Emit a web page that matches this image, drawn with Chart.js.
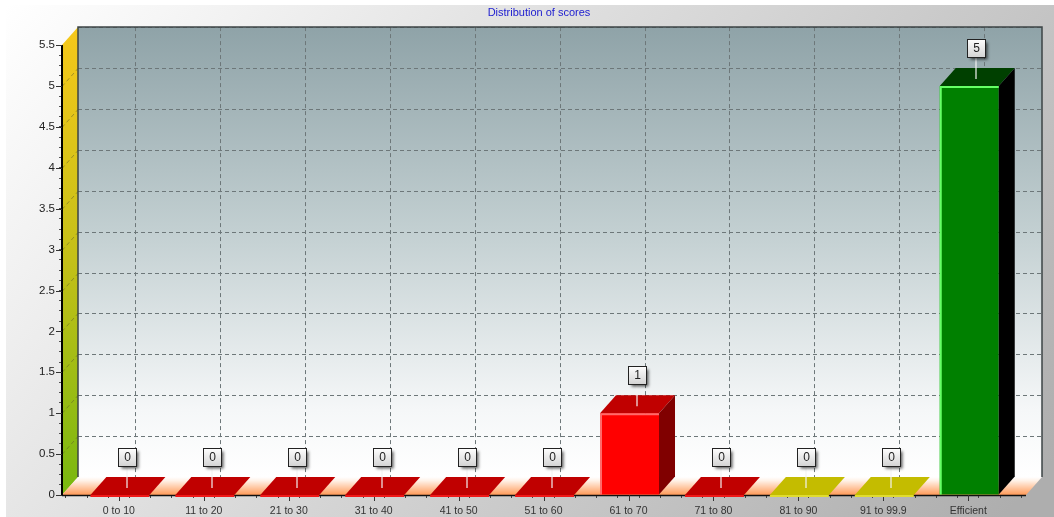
<!DOCTYPE html>
<html><head><meta charset="utf-8">
<style>html,body{margin:0;padding:0;background:#fff}canvas{display:block}</style>
<script src="https://cdn.jsdelivr.net/npm/chart.js@4"></script></head>
<body><canvas id="c" width="1054" height="517"></canvas>
<script>
const categories = ["0 to 10","11 to 20","21 to 30","31 to 40","41 to 50","51 to 60","61 to 70","71 to 80","81 to 90","91 to 99.9","Efficient"];
const scores = [0,0,0,0,0,0,1,0,0,0,5];
const frontColors = ["#ff0000","#ff0000","#ff0000","#ff0000","#ff0000","#ff0000","#ff0000","#ff0000","#d8d000","#d8d000","#008000"];
const topColors = ["#c00000","#c00000","#c00000","#c00000","#c00000","#c00000","#c00000","#c00000","#c4bc00","#c4bc00","#004000"];
const sideColors = ["#800000","#800000","#800000","#800000","#800000","#800000","#800000","#800000","#808000","#808000","#000000"];
const edgeColors = ["#f01818","#f01818","#f01818","#f01818","#f01818","#f01818","#ff6a6a","#f01818","#e0dc30","#e0dc30","#66ff66"];
const DX = 16, DY = 18;

const scene = {
  id:'scene',
  afterLayout(ch){ ch.titleBlock.left = 52; },
  beforeDraw(ch){
    const c = ch.ctx, a = ch.chartArea, X = ch.scales.x, Y = ch.scales.y;
    c.save();
    c.fillStyle = '#fff'; c.fillRect(0,0,ch.width,ch.height);
    const bg = c.createLinearGradient(6,5,ch.width*0.78,ch.height*1.4);
    bg.addColorStop(0,'#ffffff'); bg.addColorStop(1,'#aeaeae');
    c.fillStyle = bg; c.fillRect(6,5,ch.width-6,ch.height-5);
    const L=a.left, R=a.right, T=a.top, B=a.bottom;
    const wall = c.createLinearGradient(0,T-DY,0,B-DY);
    wall.addColorStop(0,'#8fa3a8'); wall.addColorStop(0.45,'#c2cfd1'); wall.addColorStop(0.85,'#f5f7f8'); wall.addColorStop(1,'#ffffff');
    c.fillStyle = wall; c.fillRect(L+DX,T-DY,R-L,B-T);
    const lw = c.createLinearGradient(0,T-DY,0,B);
    lw.addColorStop(0,'#f6c81a'); lw.addColorStop(0.5,'#c4c018'); lw.addColorStop(1,'#78b810');
    c.fillStyle = lw; c.beginPath(); c.moveTo(L,T); c.lineTo(L+DX,T-DY); c.lineTo(L+DX,B-DY); c.lineTo(L,B); c.closePath(); c.fill();
    const fl = c.createLinearGradient(0,B-DY,0,B);
    fl.addColorStop(0,'#ffffff'); fl.addColorStop(0.2,'#fff2e8'); fl.addColorStop(1,'#ff9a58');
    c.fillStyle = fl; c.beginPath(); c.moveTo(L,B); c.lineTo(L+DX,B-DY); c.lineTo(R+DX,B-DY); c.lineTo(R,B); c.closePath(); c.fill();
    c.setLineDash([4,3]); c.lineWidth = 1; c.strokeStyle = '#6d7779';
    Y.ticks.forEach(t=>{ if((t.value*2)%1) return;
      const y = Math.round(Y.getPixelForValue(t.value)-DY)+.5;
      if(t.value>0){c.beginPath(); c.moveTo(L+DX,y); c.lineTo(R+DX,y); c.stroke();}
      if(t.value>0&&t.value<5.5){c.save(); c.strokeStyle='rgba(90,90,40,.5)'; c.beginPath(); c.moveTo(L,y+DY); c.lineTo(L+DX,y); c.stroke(); c.restore();}
    });
    categories.forEach((n,i)=>{
      const x = Math.round(X.getPixelForValue(i)+DX)+.5;
      c.beginPath(); c.moveTo(x,T-DY); c.lineTo(x,B-DY); c.stroke();
    });
    c.setLineDash([]);
    c.strokeStyle='#3c4446'; c.lineWidth=1.5;
    c.beginPath(); c.moveTo(L+DX,B-DY); c.lineTo(L+DX,T-DY); c.lineTo(R+DX,T-DY); c.lineTo(R+DX,B-DY); c.stroke();
    c.restore();
  },
  afterDraw(ch){
    const c = ch.ctx, a = ch.chartArea, X = ch.scales.x, Y = ch.scales.y;
    c.save();
    c.strokeStyle='#000'; c.lineWidth=2;
    c.beginPath(); c.moveTo(a.left,a.top); c.lineTo(a.left,a.bottom); c.stroke();
    const meta = ch.getDatasetMeta(0);
    c.lineWidth=1.5; c.strokeStyle='#111';
    c.beginPath(); c.moveTo(a.left,a.bottom+.5); c.lineTo(a.right,a.bottom+.5); c.stroke();
    c.lineWidth=1; c.strokeStyle='#333';
    Y.ticks.forEach(t=>{ if((t.value*2)%1) return; const y=Math.round(Y.getPixelForValue(t.value))+.5;
      c.beginPath(); c.moveTo(a.left-6,y); c.lineTo(a.left,y); c.stroke(); });
    categories.forEach((n,i)=>{ const x=Math.round(X.getPixelForValue(i))+.5;
      c.beginPath(); c.moveTo(x,a.bottom); c.lineTo(x,a.bottom+6); c.stroke(); });
    meta.data.forEach((el,i)=>{
      const w = el.width, l = el.x-w/2+1, r = el.x+w/2+1, t = el.y, b = el.base;
      c.fillStyle = frontColors[i]; if(b-t>0) c.fillRect(l,t,w,b-t);
      c.fillStyle = topColors[i];
      c.beginPath(); c.moveTo(l,t); c.lineTo(l+DX,t-DY); c.lineTo(r+DX,t-DY); c.lineTo(r,t); c.closePath(); c.fill();
      if(b-t>0){
        c.fillStyle = sideColors[i];
        c.beginPath(); c.moveTo(r,t); c.lineTo(r+DX,t-DY); c.lineTo(r+DX,b-DY); c.lineTo(r,b); c.closePath(); c.fill();
      }
      c.strokeStyle = edgeColors[i]; c.lineWidth=2;
      c.beginPath(); c.moveTo(l+1,b); c.lineTo(l+1,t+1); c.lineTo(r,t+1); c.stroke();
      const cx = Math.round(el.x+8), by = Math.round(t-38);
      c.strokeStyle='#f4f4f4'; c.lineWidth=1.2;
      c.beginPath(); c.moveTo(cx,t-7); c.lineTo(cx,by+9); c.stroke();
      c.save();
      c.shadowColor='rgba(0,0,0,.65)'; c.shadowBlur=3; c.shadowOffsetX=2; c.shadowOffsetY=2;
      const g=c.createLinearGradient(0,by-9,0,by+9); g.addColorStop(0,'#ffffff'); g.addColorStop(1,'#d4d4d4');
      c.fillStyle=g; c.fillRect(cx-8.5,by-8.5,18,18);
      c.restore();
      c.strokeStyle='#222'; c.lineWidth=1; c.strokeRect(cx-8.5,by-8.5,18,18);
      c.fillStyle='#222'; c.font='12px "Liberation Sans"'; c.textAlign='center'; c.textBaseline='middle';
      c.fillText(String(scores[i]),cx+.5,by+1);
    });
    c.restore();
  }
};

new Chart(document.getElementById('c'),{
  type:'bar',
  data:{datasets:[{
    data:scores.map((v,i)=>({x:i,y:v})),
    backgroundColor:'rgba(0,0,0,0)',borderWidth:0,
    barThickness:59
  }]},
  plugins:[scene],
  options:{
    responsive:false,animation:false,devicePixelRatio:1,
    layout:{padding:{left:0,right:28,top:0,bottom:0}},
    plugins:{
      legend:{display:false},tooltip:{enabled:false},
      title:{display:true,text:'Distribution of scores',color:'#2020d0',
        font:{family:'"Liberation Sans"',size:11,weight:'normal',lineHeight:1.1},
        padding:{top:7,bottom:26}}
    },
    scales:{
      x:{type:'linear',min:-0.67,max:10.68,offset:false,
        afterFit:s=>{s.height=22;},
        border:{display:false},
        grid:{drawOnChartArea:false,drawTicks:true,tickLength:3,color:'#444'},
        ticks:{stepSize:0.25,includeBounds:false,autoSkip:false,maxRotation:0,padding:7,color:'#333',
          font:{family:'"Liberation Sans"',size:10.5},
          callback:v=>Number.isInteger(v)&&categories[v]!==undefined?categories[v]:''}},
      y:{min:0,max:5.5,
        afterFit:s=>{s.width=62;},
        border:{display:false},
        grid:{drawOnChartArea:false,drawTicks:true,tickLength:3,color:'#555'},
        ticks:{stepSize:0.125,autoSkip:false,padding:4,color:'#222',
          font:{family:'"Liberation Sans"',size:11.5},
          callback:v=>(v*2)%1===0?String(v):''}}
    }
  }
});
</script></body></html>
